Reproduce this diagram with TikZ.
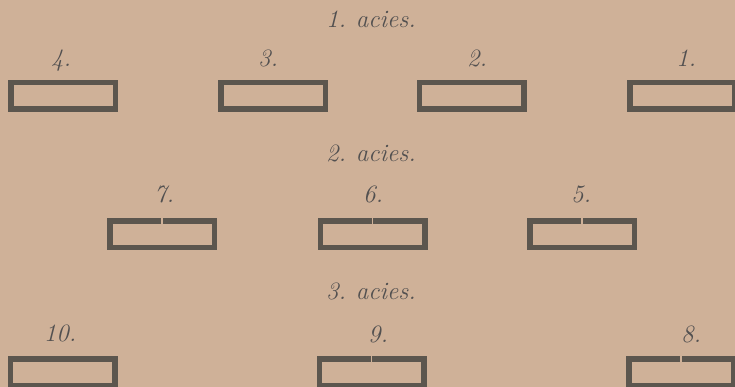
\documentclass[tikz,border=0pt]{standalone}
\definecolor{paper}{RGB}{207,177,152}
\definecolor{ink}{RGB}{92,86,78}
\definecolor{txt}{RGB}{82,80,80}
\tikzset{
  troop/.style={draw=ink, line width=5.5pt, minimum width=104.5pt, minimum height=26.5pt, inner sep=0pt, outer sep=0pt},
  lbl/.style={text=txt, font=\fontsize{25}{25}\selectfont\itshape, anchor=base, inner sep=0pt},
  ttl/.style={text=txt, font=\fontsize{25}{25}\selectfont\itshape, anchor=base, inner sep=0pt},
  gapline/.style={draw=paper, line width=1.6pt}
}
\begin{document}
\begin{tikzpicture}[x=1pt,y=-1pt]
\fill[paper] (0,0) rectangle (735,387);
\useasboundingbox (0,0) rectangle (735,387);
% titles
\node[ttl] (t1) at (371,28) {1.\hspace{0.4em}acies.};
\node[ttl] (t2) at (371,162) {2.\hspace{0.4em}acies.};
\node[ttl] (t3) at (371,299) {3.\hspace{0.4em}acies.};
% row 1
\node[troop] (b4) at (63,96) {};
\node[troop] (b3) at (273,96) {};
\node[troop] (b2) at (471.5,96) {};
\node[troop] (b1) at (682,96) {};
\node[lbl] (l4) at (61,67) {4.};
\node[lbl] (l3) at (268,67) {3.};
\node[lbl] (l2) at (477,67) {2.};
\node[lbl] (l1) at (686,67) {1.};
% row 2
\node[troop] (b7) at (162,234) {};
\node[troop] (b6) at (372.5,234) {};
\node[troop] (b5) at (582,234) {};
\node[lbl] (l7) at (164,203) {7.};
\node[lbl] (l6) at (373,203) {6.};
\node[lbl] (l5) at (581,203) {5.};
% row 3
\node[troop] (b10) at (62.5,372) {};
\node[troop] (b9) at (371.5,372) {};
\node[troop] (b8) at (681,372) {};
\node[lbl] (l10) at (60,341) {10.};
\node[lbl] (l9) at (378,342) {9.};
\node[lbl] (l8) at (691,342) {8.};
% small breaks in the top edges
\foreach \b in {b7,b6,b5,b9,b8}{
  \draw[gapline] ([yshift=3pt]\b.north) -- ([yshift=-3pt]\b.north);
}
\end{tikzpicture}
\end{document}
